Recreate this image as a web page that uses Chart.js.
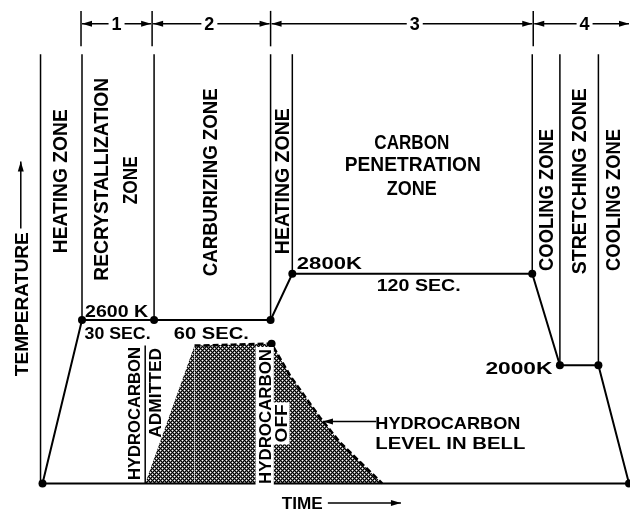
<!DOCTYPE html>
<html lang="en">
<head>
<meta charset="UTF-8" />
<title>Filament Carburizing Cycle</title>
<script src="https://cdn.jsdelivr.net/npm/chart.js"></script>
<style>
  html, body { margin: 0; padding: 0; background: #fff; }
  canvas { display: block; }
</style>
</head>
<body>
<canvas id="cycleChart" width="634" height="515"></canvas>
<script>
// time and temperature are in drawing units; temperature 0 is the base line
const profileTime = [39, 79, 152, 270, 292, 535, 563, 602, 633];
const profileTemp = [0, 166, 166, 166, 213, 213, 120, 120, 0];
const baseTime = [39, 633];
const baseTemp = [0, 0];

// hydrocarbon level in the bell
const hcTime = [143, 193, 232, 271, 290, 320, 340, 383];
const hcLevel = [0, 140, 141, 142, 109, 67, 42, 0];

// zone walls: where each one stands and where it meets the profile
const wallTime = [37, 79, 152, 270, 292, 535, 563, 602];
const wallFoot = [0, 166, 166, 166, 213, 213, 120, 120];
const wallTop = 436;

// hydrocarbon admitted / off markers
const gateTime = [143, 271];
const gateTop = [140, 142];

// numbered stages along the top
const stageEdges = [78, 150, 270, 536, 634];
const stageNames = ['1', '2', '3', '4'];
const stageLabelAt = [114, 208, 416, 588];

const labels = [
  { text: 'HEATING ZONE', t: 57, v: 307, rot: true, size: 20, w: 144 },
  { text: 'RECRYSTALLIZATION', t: 98, v: 309, rot: true, size: 20, w: 203 },
  { text: 'ZONE', t: 127, v: 308, rot: true, size: 20, w: 48 },
  { text: 'CARBURIZING ZONE', t: 208, v: 306, rot: true, size: 20, w: 188 },
  { text: 'HEATING ZONE', t: 281, v: 307, rot: true, size: 20, w: 146 },
  { text: 'CARBON', t: 413, v: 347, size: 20, w: 75 },
  { text: 'PENETRATION', t: 414, v: 324.5, size: 20, w: 136 },
  { text: 'ZONE', t: 413, v: 300.5, size: 20, w: 50 },
  { text: 'COOLING ZONE', t: 549, v: 288, rot: true, size: 20, w: 142 },
  { text: 'STRETCHING ZONE', t: 582, v: 307, rot: true, size: 20, w: 186 },
  { text: 'COOLING ZONE', t: 617, v: 288, rot: true, size: 20, w: 142 },
  { text: 'TEMPERATURE', t: 18, v: 182, rot: true, size: 18, w: 144 },
  { text: '2600 K', t: 114, v: 175, size: 17, w: 63 },
  { text: '30 SEC.', t: 115, v: 153, size: 17, w: 66 },
  { text: '60 SEC.', t: 210, v: 153, size: 17, w: 75 },
  { text: '2800K', t: 329.5, v: 224, size: 17, w: 65 },
  { text: '120 SEC.', t: 420, v: 202, size: 17, w: 84 },
  { text: '2000K', t: 521.5, v: 117.5, size: 17, w: 67 },
  { text: 'HYDROCARBON', t: 449.5, v: 61.5, size: 17, w: 145 },
  { text: 'LEVEL IN BELL', t: 452, v: 41.5, size: 17, w: 150 },
  { text: 'TIME', t: 302, v: -20, size: 17, w: 41 },
  { text: 'HYDROCARBON', t: 132, v: 71, rot: true, size: 17, w: 133 },
  { text: 'ADMITTED', t: 153, v: 92, rot: true, size: 17, w: 90 },
  { text: 'HYDROCARBON', t: 264, v: 68, rot: true, size: 17, w: 135, bg: true },
  { text: 'OFF', t: 280, v: 61, rot: true, size: 17, w: 38, bg: true }
];

// arrows: [fromTime, fromTemp, toTime, toTemp]
const arrows = [
  [17, 259, 17, 327],
  [328, -20, 402, -20],
  [377, 63, 323, 63]
];

const pts = (xs, ys) => xs.map((x, i) => ({ x: x, y: ys[i] }));

// fine diagonal mesh: black diagonals, grey cells, white diamond centres
function crossHatch() {
  const c = document.createElement('canvas');
  c.width = 4; c.height = 4;
  const g = c.getContext('2d');
  const img = g.createImageData(4, 4);
  for (let y = 0; y < 4; y++) {
    for (let x = 0; x < 4; x++) {
      const a = (x + y) % 4, b = (x - y + 8) % 4;
      let shade = 110;
      if (a === 0 || b === 0) shade = 0;
      else if (a === 2 && b === 2) shade = 255;
      const k = (y * 4 + x) * 4;
      img.data[k] = shade; img.data[k + 1] = shade; img.data[k + 2] = shade; img.data[k + 3] = 255;
    }
  }
  g.putImageData(img, 0, 0);
  return g.createPattern(c, 'repeat');
}

function head(ctx, x, y, ang) {
  ctx.save();
  ctx.translate(x, y);
  ctx.rotate(ang);
  ctx.beginPath();
  ctx.moveTo(0, 0);
  ctx.lineTo(-10, -3);
  ctx.lineTo(-10, 3);
  ctx.closePath();
  ctx.fill();
  ctx.restore();
}

function drawLabel(ctx, x, y, lab) {
  ctx.save();
  ctx.font = 'bold ' + lab.size + 'px "Liberation Sans", Arial, sans-serif';
  const natural = ctx.measureText(lab.text).width;
  const cap = lab.size * 0.72;
  ctx.translate(x, y);
  if (lab.rot) ctx.rotate(-Math.PI / 2);
  if (lab.bg) {
    ctx.fillStyle = '#fff';
    ctx.fillRect(-lab.w / 2 - 2, -cap / 2 - 3, lab.w + 4, cap + 6);
  }
  ctx.scale(lab.w / natural, 1);
  ctx.fillStyle = '#000';
  ctx.textAlign = 'center';
  ctx.textBaseline = 'alphabetic';
  ctx.fillText(lab.text, 0, cap / 2);
  ctx.restore();
}

const notes = {
  id: 'notes',
  afterDatasetsDraw(chart) {
    const ctx = chart.ctx;
    const sx = chart.scales.x, sy = chart.scales.y;
    const X = t => sx.getPixelForValue(t);
    const Y = v => sy.getPixelForValue(v);

    ctx.save();
    ctx.strokeStyle = '#000';
    ctx.fillStyle = '#000';
    ctx.lineWidth = 1.5;

    // stage dimension line
    const dimY = Y(467);
    stageEdges.slice(0, 4).forEach(t => {
      ctx.beginPath();
      ctx.moveTo(X(t), Y(480));
      ctx.lineTo(X(t), Y(444));
      ctx.stroke();
    });
    stageNames.forEach((name, i) => {
      const a = X(stageEdges[i]) + 1, b = X(stageEdges[i + 1]) - 1;
      const m = X(stageLabelAt[i]);
      ctx.beginPath();
      ctx.moveTo(a, dimY); ctx.lineTo(m - 8, dimY);
      ctx.moveTo(m + 8, dimY); ctx.lineTo(b, dimY);
      ctx.stroke();
      head(ctx, a, dimY, Math.PI);
      head(ctx, b, dimY, 0);
      ctx.font = 'bold 18px "Liberation Sans", Arial, sans-serif';
      ctx.textAlign = 'center';
      ctx.textBaseline = 'middle';
      ctx.fillText(name, m, dimY + 1);
    });

    arrows.forEach(a => {
      const x0 = X(a[0]), y0 = Y(a[1]), x1 = X(a[2]), y1 = Y(a[3]);
      ctx.beginPath();
      ctx.moveTo(x0, y0);
      ctx.lineTo(x1, y1);
      ctx.stroke();
      head(ctx, x1, y1, Math.atan2(y1 - y0, x1 - x0));
    });
    ctx.restore();

    labels.forEach(lab => drawLabel(ctx, X(lab.t), Y(lab.v), lab));
  }
};

const line = (data, extra) => Object.assign({
  data: data,
  borderColor: '#000',
  borderWidth: 1.5,
  pointRadius: 0,
  fill: false,
  tension: 0
}, extra || {});

const datasets = [
  line(pts(profileTime, profileTemp), {
    borderWidth: 2, pointRadius: 4, pointBackgroundColor: '#000', pointBorderWidth: 0, order: 1
  }),
  line(pts(baseTime, baseTemp), { borderWidth: 2, order: 2 })
];
wallTime.forEach((t, i) => {
  datasets.push(line([{ x: t, y: wallFoot[i] }, { x: t, y: wallTop }], { order: 3 }));
});
gateTime.forEach((t, i) => {
  datasets.push(line([{ x: t, y: 0 }, { x: t, y: gateTop[i] }], { order: 3 }));
});
datasets.push(line(pts(hcTime, hcLevel), {
  fill: 'origin',
  backgroundColor: crossHatch(),
  borderWidth: 2.5,
  borderDash: [6, 3],
  pointRadius: hcTime.map((t, i) => (i === 3 ? 4 : 0)),
  pointBackgroundColor: '#000',
  pointBorderWidth: 0,
  segment: { borderColor: c => (c.p0DataIndex === 0 ? 'rgba(0,0,0,0)' : '#000') },
  order: 9
}));

new Chart(document.getElementById('cycleChart'), {
  type: 'line',
  data: { datasets: datasets },
  options: {
    responsive: false,
    animation: false,
    devicePixelRatio: 1,
    layout: { padding: 0 },
    plugins: { legend: { display: false }, tooltip: { enabled: false } },
    scales: {
      x: { type: 'linear', min: 0, max: 634, display: false },
      y: { type: 'linear', min: -28, max: 487, display: false }
    }
  },
  plugins: [notes]
});
</script>
</body>
</html>
